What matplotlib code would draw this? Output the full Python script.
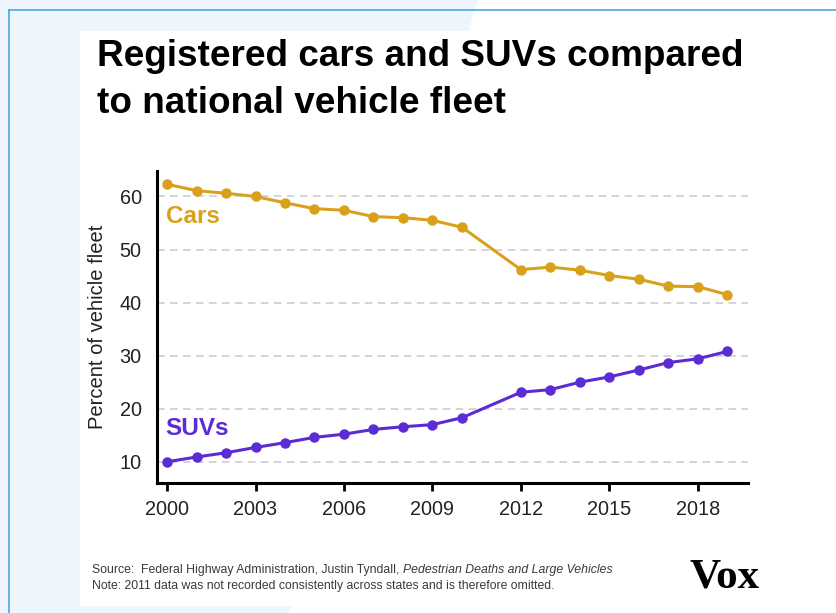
import matplotlib
matplotlib.use("Agg")
import matplotlib.pyplot as plt
from matplotlib.patches import Polygon, Rectangle
from matplotlib.lines import Line2D

# data (2011 omitted in the source)
years = [2000, 2001, 2002, 2003, 2004, 2005, 2006, 2007, 2008, 2009, 2010,
         2012, 2013, 2014, 2015, 2016, 2017, 2018, 2019]
cars = [62.3, 61.1, 60.6, 60.0, 58.8, 57.7, 57.4, 56.2, 56.0, 55.5, 54.2,
        46.2, 46.7, 46.1, 45.1, 44.4, 43.1, 43.0, 41.5]
suvs = [10.0, 10.9, 11.7, 12.7, 13.6, 14.6, 15.2, 16.1, 16.6, 17.0, 18.3,
        23.1, 23.6, 25.0, 26.0, 27.3, 28.7, 29.4, 30.8]
xticks = [2000, 2003, 2006, 2009, 2012, 2015, 2018]
yticks = [10, 20, 30, 40, 50, 60]

CAR_COLOR = '#d9a11b'
SUV_COLOR = '#5b2bd4'

W, H = 836, 613
fig = plt.figure(figsize=(W / 100, H / 100), dpi=100)
fig.patch.set_facecolor('white')


def fx(x):
    return x / W


def fy(y):
    return 1 - y / H


# light blue backdrop, border lines and white card
fig.patches.append(Polygon([(fx(0), fy(0)), (fx(478), fy(0)), (fx(289), fy(613)), (fx(0), fy(613))],
                           closed=True, transform=fig.transFigure, facecolor='#eef5fd',
                           edgecolor='none', zorder=0))
fig.lines.append(Line2D([fx(9), fx(836)], [fy(9.5), fy(9.5)], transform=fig.transFigure,
                        color='#4aa7e0', lw=1.2, zorder=1))
fig.lines.append(Line2D([fx(9), fx(9)], [fy(9.5), fy(613)], transform=fig.transFigure,
                        color='#4aa7e0', lw=1.2, zorder=1))
fig.patches.append(Rectangle((fx(80), fy(606)), fx(836) - fx(80), fy(31) - fy(606),
                             transform=fig.transFigure, facecolor='white',
                             edgecolor='none', zorder=2))

# title
fig.text(fx(97), fy(66), 'Registered cars and SUVs compared', fontsize=26.6,
         fontweight='bold', family='Liberation Sans', color='black',
         va='baseline', ha='left', zorder=5)
fig.text(fx(97), fy(113), 'to national vehicle fleet', fontsize=26.6,
         fontweight='bold', family='Liberation Sans', color='black',
         va='baseline', ha='left', zorder=5)

ax = fig.add_axes([fx(157), fy(483), fx(748) - fx(157), fy(171) - fy(483)])
ax.set_facecolor('none')
ax.set_zorder(3)

ax.plot(years, cars, color=CAR_COLOR, lw=2.2, marker='o', markersize=6.5, zorder=4)
ax.plot(years, suvs, color=SUV_COLOR, lw=2.2, marker='o', markersize=6.5, zorder=4)

ax.text(1999.95, 56.2, 'Cars', color=CAR_COLOR, fontsize=17.5, fontweight='bold',
        family='Liberation Sans', va='center', ha='left')
ax.text(1999.95, 16.3, 'SUVs', color=SUV_COLOR, fontsize=17.5, fontweight='bold',
        family='Liberation Sans', va='center', ha='left')

ax.set_xlim(1999.66, 2019.7)
ax.set_ylim(6.0, 64.8)
ax.set_xticks(xticks)
ax.set_yticks(yticks)
ax.set_xticklabels([str(t) for t in xticks], family='Liberation Sans', fontsize=14.3, color='#222222')
ax.set_yticklabels([str(t) for t in yticks], family='Liberation Sans', fontsize=14.3, color='#222222')
ax.tick_params(axis='x', length=6, width=2, color='black', pad=6)
ax.tick_params(axis='y', length=0, pad=11)

ax.grid(axis='y', color='#c9c9c9', linestyle=(0, (5, 3.5)), lw=1.1)
ax.set_axisbelow(True)
for side in ['top', 'right']:
    ax.spines[side].set_visible(False)
for side in ['left', 'bottom']:
    ax.spines[side].set_linewidth(2.2)
    ax.spines[side].set_color('black')

ax.set_ylabel('Percent of vehicle fleet', family='Liberation Sans', fontsize=14.5,
              color='#222222', labelpad=9)

# footnote and logo
src = fig.text(fx(92), fy(573), 'Source:  Federal Highway Administration, Justin Tyndall, ',
               fontsize=8.8, family='Liberation Sans', color='#3a3a3a', va='baseline', zorder=5)
fig.canvas.draw()
bb = src.get_window_extent()
fig.text(bb.x1 / W, fy(573), 'Pedestrian Deaths and Large Vehicles', fontsize=8.8,
         family='Liberation Sans', style='italic', color='#3a3a3a', va='baseline', zorder=5)
fig.text(fx(92), fy(589), 'Note: 2011 data was not recorded consistently across states and is therefore omitted.',
         fontsize=8.8, family='Liberation Sans', color='#3a3a3a', va='baseline', zorder=5)
fig.text(fx(690), fy(588), 'Vox', fontsize=31, fontweight='bold', family='Liberation Serif',
         color='black', va='baseline', ha='left', zorder=5)

fig.savefig('out.png', dpi=100, facecolor=fig.get_facecolor())
